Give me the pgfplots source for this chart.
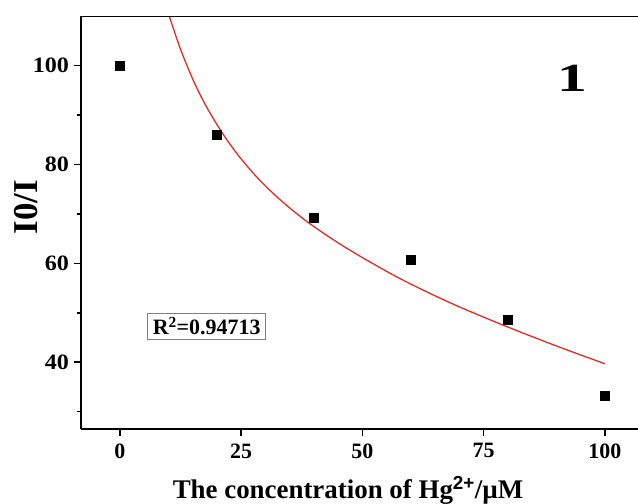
\documentclass[border=0pt]{standalone}
\usepackage{pgfplots}
\pgfplotsset{compat=1.18}
\usepackage{fontspec}
\setmainfont{Liberation Serif}
\setsansfont{Liberation Sans}
\definecolor{fitred}{RGB}{222,45,40}
\begin{document}
\begin{tikzpicture}
\useasboundingbox (-81bp,-75bp) rectangle (557bp,429bp);
\begin{axis}[
  scale only axis,
  width=557bp, height=413bp,
  xmin=-8, xmax=106.85, ymin=26.5, ymax=110,
  axis x line*=bottom, axis y line*=left,
  xtick={0,25,50,75,100},
  ytick={40,60,80,100},
  minor ytick={30,50,70,90},
  xtick pos=bottom, ytick pos=left,
  tick align=outside,
  major tick length=7bp,
  minor tick length=4bp,
  tick style={black, line width=1.5bp},
  axis line style={line width=2bp, black, -},
  /pgf/number format/assume math mode=true,
  xticklabel style={font=\fontsize{22}{22}\selectfont\bfseries, yshift=-4bp},
  yticklabel style={font=\fontsize{22}{22}\selectfont\bfseries, xscale=1.1, xshift=-1bp},
  xlabel={The concentration of Hg\textsuperscript{\sffamily 2+}/µM},
  xlabel style={font=\fontsize{27}{27}\selectfont\bfseries, at={(axis description cs:0.4794,0)}, anchor=base, yshift=-69bp},
  ylabel={I0/I},
  ylabel style={font=\fontsize{35}{35}\selectfont\bfseries, at={(axis description cs:0,0.5375)}, anchor=center, yshift=55bp},
  clip=true,
]
\addplot[smooth, line width=1.3bp, color=fitred] coordinates {
(10.2,110.0) (12.4,103.6) (15.1,97.1) (17.9,91.6) (21.3,86.1) (24.7,81.5) (28.9,76.75) (33.7,72.3) (39.2,68.0) (46.7,63.1) (55.7,58.0) (62.5,54.6) (70,51.2) (79.8,47.2) (90,43.3) (100,39.7)
};
\addplot[only marks, mark=square*, mark size=4.5bp, black] coordinates {
(0,100) (20,86.0) (40,69.2) (60,60.7) (80,48.5) (100,33.2)
};
\draw[line width=2bp, black] (rel axis cs:0,1) -- (rel axis cs:1,1);
\node[font=\fontsize{40}{40}\selectfont\bfseries, xscale=1.5] at (axis cs:93.4,97.4) {1};
\node[draw=gray, line width=1bp, inner xsep=5bp, inner ysep=4bp, font=\fontsize{22}{22}\selectfont\bfseries] at (axis cs:17.9,47.3) {R\textsuperscript{2}=0.94713};
\end{axis}
\end{tikzpicture}
\end{document}
